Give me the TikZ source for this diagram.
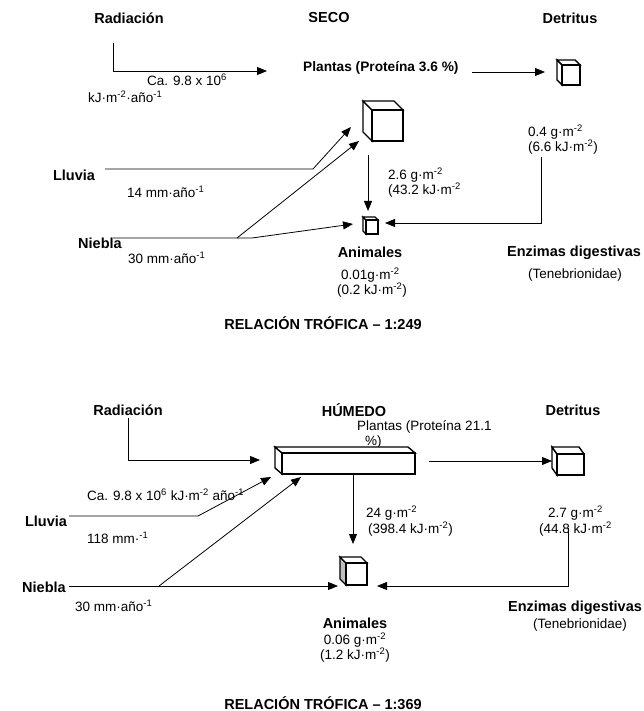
\documentclass[tikz,border=0pt]{standalone}
\usepackage{fontspec}
\setmainfont{Liberation Sans}
\usetikzlibrary{arrows.meta}
\newcommand\sps[1]{\textsuperscript{#1}}
\newcommand\mycube[7]{%
  \filldraw[cubeln, fill=#7] (#1-#5,#2-#6) -- (#1,#2) -- (#1,#4) -- (#1-#5,#4-#6) -- cycle;
  \filldraw[cubeln, fill=white] (#1-#5,#2-#6) -- (#3-#5,#2-#6) -- (#3,#2) -- (#1,#2) -- cycle;
  \draw[cubeln] (#1,#2) rectangle (#3,#4);
}
\tikzset{
  x=1pt, y=-1pt,
  lbl/.style={font=\fontsize{13.5}{15}\selectfont, inner sep=0pt},
  ttl/.style={font=\fontsize{14.5}{16}\selectfont\bfseries, inner sep=0pt},
  arr/.style={line width=0.8pt, -{Triangle[length=10pt,width=8pt]}},
  ln/.style={line width=0.8pt},
  cubeln/.style={line width=1.4pt, line join=miter},
}
\begin{document}
\begin{tikzpicture}
\useasboundingbox (0,0) rectangle (644,711);
% ================= SECO =================
\node[ttl] (radS) at (129,18) {Radiación};
\node[ttl] (seco) at (329,18) {SECO};
\node[ttl] (detS) at (570,18) {Detritus};
\node[lbl, anchor=west] (caS1) at (147,80) {Ca. 9.8 x 10\sps{6}};
\node[lbl, anchor=west] (caS2) at (88,97) {kJ·m\sps{-2}·año\sps{-1}};
\node[font=\fontsize{13.7}{15}\selectfont\bfseries, inner sep=0pt, anchor=west] (plS) at (303,68) {Plantas (Proteína 3.6 \%)};
\node[lbl, anchor=west] (d1S) at (528,132) {0.4 g·m\sps{-2}};
\node[lbl, anchor=west] (d2S) at (528,147) {(6.6 kJ·m\sps{-2})};
\node[lbl, anchor=west] (p1S) at (388,175) {2.6 g·m\sps{-2}};
\node[lbl, anchor=west] (p2S) at (388,190) {(43.2 kJ·m\sps{-2}};
\node[ttl] (llS) at (74,175) {Lluvia};
\node[lbl, anchor=west] (llvS) at (127,192) {14 mm·año\sps{-1}};
\node[ttl] (niS) at (100,243) {Niebla};
\node[lbl, anchor=west] (nivS) at (128,258) {30 mm·año\sps{-1}};
\node[ttl] (anS) at (370,252) {Animales};
\node[lbl, anchor=west] (a1S) at (341,275) {0.01g·m\sps{-2}};
\node[lbl, anchor=west] (a2S) at (337,290) {(0.2 kJ·m\sps{-2})};
\node[ttl] (enS) at (574,253) {Enzimas digestivas};
\node[lbl] (teS) at (575,275) {(Tenebrionidae)};
\node[ttl] (relS) at (323,323) {RELACIÓN TRÓFICA – 1:249};
% cubes
\mycube{372}{110}{403}{141}{9}{9}{white}
\mycube{562}{65}{580}{85}{5}{5}{white}
\mycube{366}{220}{378}{234}{3}{3}{white}
% coordinates
\coordinate (rS0) at (113,43); \coordinate (rS1) at (113,71); \coordinate (rS2) at (267,71);
\coordinate (pdS0) at (472,72); \coordinate (pdS1) at (545,72);
\coordinate (paS0) at (368,155); \coordinate (paS1) at (368,211);
\coordinate (daS0) at (541,157); \coordinate (daS1) at (541,223); \coordinate (daS2) at (385,223);
\coordinate (lS0) at (105,169); \coordinate (lS1) at (313,169); \coordinate (lS2) at (351,127);
\coordinate (nS0) at (113,238); \coordinate (nS1) at (237,238); \coordinate (nS2) at (252,238);
\coordinate (nS3) at (353,224); \coordinate (nS4) at (359,141);
\draw[arr] (rS0) -- (rS1) -- (rS2);
\draw[arr] (pdS0) -- (pdS1);
\draw[arr] (paS0) -- (paS1);
\draw[arr] (daS0) -- (daS1) -- (daS2);
\draw[arr] (lS0) -- (lS1) -- (lS2);
\draw[arr] (nS0) -- (nS2) -- (nS3);
\draw[arr] (nS1) -- (nS4);
% ================= HUMEDO =================
\node[ttl] (radH) at (128,410) {Radiación};
\node[ttl] (hum) at (354,410) {HÚMEDO};
\node[ttl] (detH) at (573,410) {Detritus};
\node[lbl, anchor=west] (plH1) at (357,427) {Plantas (Proteína 21.1};
\node[lbl, anchor=west] (plH2) at (365,442) {\%)};
\node[lbl, anchor=west] (caH) at (87,495) {Ca. 9.8 x 10\sps{6} kJ·m\sps{-2} año\sps{-1}};
\node[ttl] (llH) at (46,521) {Lluvia};
\node[lbl, anchor=west] (llvH) at (87,538) {118 mm·\sps{-1}};
\node[ttl] (niH) at (44,587) {Niebla};
\node[lbl, anchor=west] (nivH) at (75,606) {30 mm·año\sps{-1}};
\node[lbl, anchor=west] (p1H) at (366,513) {24 g·m\sps{-2}};
\node[lbl, anchor=west] (p2H) at (368,529) {(398.4 kJ·m\sps{-2})};
\node[lbl, anchor=west] (d1H) at (548,513) {2.7 g·m\sps{-2}};
\node[lbl, anchor=west] (d2H) at (539,529) {(44.8 kJ·m\sps{-2}};
\node[ttl] (enH) at (575,608) {Enzimas digestivas};
\node[lbl] (teH) at (580,625) {(Tenebrionidae)};
\node[ttl] (anH) at (355,623) {Animales};
\node[lbl] (a1H) at (355,640) {0.06 g·m\sps{-2}};
\node[lbl] (a2H) at (355,655) {(1.2 kJ·m\sps{-2})};
\node[ttl] (relH) at (323,703) {RELACIÓN TRÓFICA – 1:369};
% cubes
\mycube{282}{453}{415}{474}{7}{6}{white}
\mycube{557}{454}{584}{475}{5}{7}{white}
\mycube{346}{563}{367}{585}{6}{6}{black!25}
% coordinates
\coordinate (rH0) at (128,418); \coordinate (rH1) at (128,460); \coordinate (rH2) at (260,460);
\coordinate (pdH0) at (429,461); \coordinate (pdH1) at (552,461);
\coordinate (paH0) at (353,474); \coordinate (paH1) at (353,544);
\coordinate (daH0) at (568,528); \coordinate (daH1) at (568,586); \coordinate (daH2) at (377,586);
\coordinate (lH0) at (69,516); \coordinate (lH1) at (198,516); \coordinate (lH2) at (271,477);
\coordinate (nH0) at (69,586); \coordinate (nH1) at (159,586); \coordinate (nH2) at (338,586);
\coordinate (nH3) at (301,477);
\draw[arr] (rH0) -- (rH1) -- (rH2);
\draw[arr] (pdH0) -- (pdH1);
\draw[arr] (paH0) -- (paH1);
\draw[arr] (daH0) -- (daH1) -- (daH2);
\draw[arr] (lH0) -- (lH1) -- (lH2);
\draw[arr] (nH0) -- (nH2);
\draw[arr] (nH1) -- (nH3);
\end{tikzpicture}
\end{document}
